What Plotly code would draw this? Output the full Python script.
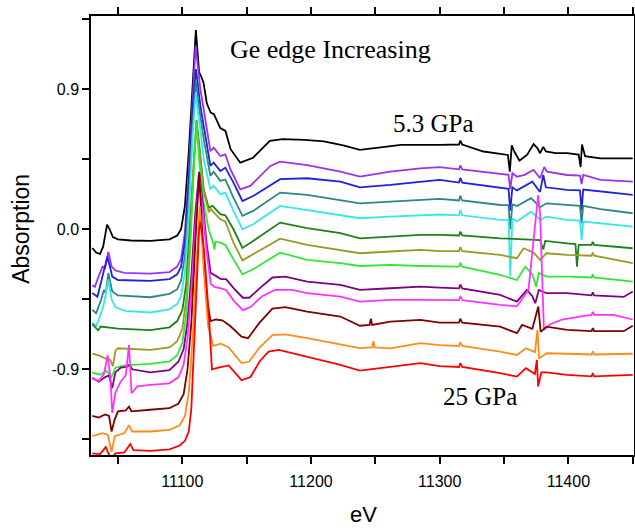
import plotly.graph_objects as go

# ---------------- data ----------------
X_TICKS = [11050, 11100, 11150, 11200, 11250, 11300, 11350, 11400, 11450]
X_LABELS = ["", "11100", "", "11200", "", "11300", "", "11400", ""]
Y_TICKS = [-1.35, -0.9, -0.45, 0.0, 0.45, 0.9, 1.35]
Y_LABELS = ["", "-0.9", "", "0.0", "", "0.9", ""]

BLACK = [(11030,-0.12),(11033,-0.15),(11036,-0.16),(11038.5,-0.11),(11041.5,0.03),(11043.5,0.0),(11046,-0.05),
         (11050,-0.065),(11060,-0.072),(11075,-0.075),(11090,-0.065),(11096,-0.04),(11099,0.0),(11102,0.15),
         (11105,0.5),(11108,0.93),(11110.5,1.28),(11113,1.01),(11114.5,0.985),(11116.5,0.94),(11119,0.81),
         (11122,0.75),(11124.5,0.74),(11129.5,0.65),(11133.5,0.632),(11137.5,0.515),(11145,0.428),(11155,0.46),
         (11168,0.568),(11178,0.579),(11195,0.575),(11210,0.565),(11225,0.54),(11238,0.51),(11255,0.525),
         (11270,0.542),(11300,0.542),(11315,0.545),(11316,0.57),(11317.5,0.545),(11334,0.50),(11347,0.484),
         (11353,0.478),(11354.5,0.37),(11356,0.54),(11358,0.50),(11362,0.441),(11368,0.48),(11373,0.548),
         (11376,0.52),(11378,0.489),(11380.5,0.53),(11382.5,0.50),(11390,0.49),(11399,0.489),(11408,0.48),
         (11409.5,0.40),(11410.6,0.545),(11413,0.47),(11425,0.456),(11450,0.456)]

VIOLET = [(11030,-0.36),(11032,-0.37),(11035,-0.30),(11038,-0.24),(11040,-0.25),(11042.5,-0.145),(11045,-0.24),
          (11048,-0.265),(11055,-0.28),(11075,-0.285),(11090,-0.275),(11096,-0.24),(11099,-0.19),(11102,-0.02),
          (11105,0.38),(11108,0.88),(11110.3,1.18),(11112,1.05),(11114,0.9),(11116.6,0.77),(11121.8,0.503),
          (11124.3,0.525),(11129.5,0.471),(11133.4,0.482),(11137.3,0.386),(11145,0.257),(11152.8,0.279),
          (11168.4,0.407),(11176,0.435),(11197,0.413),(11222.8,0.37),(11238,0.338),(11261.6,0.37),(11285,0.392),
          (11300,0.40),(11315,0.385),(11316,0.41),(11317.5,0.385),(11347,0.356),(11353.5,0.35),(11354.8,0.26),
          (11356.5,0.36),(11360,0.338),(11366,0.35),(11373,0.381),(11378,0.328),(11381.3,0.40),(11383.4,0.37),
          (11399,0.349),(11409,0.345),(11410.3,0.29),(11411.5,0.35),(11425,0.317),(11450,0.306)]

BLUE = [(11030,-0.41),(11034,-0.433),(11038,-0.30),(11041.7,-0.176),(11044,-0.25),(11045.5,-0.304),(11050,-0.326),
        (11075,-0.332),(11090,-0.32),(11096,-0.29),(11099,-0.24),(11102,-0.08),(11105,0.3),(11108,0.78),
        (11110.5,1.03),(11112,0.93),(11114,0.793),(11116.6,0.664),(11121.8,0.407),(11124.3,0.428),(11129.5,0.375),
        (11133.4,0.396),(11139.7,0.30),(11146.7,0.182),(11155,0.214),(11176,0.322),(11197,0.328),(11222.8,0.306),
        (11238,0.27),(11261.6,0.285),(11285,0.306),(11300,0.317),(11315,0.30),(11316,0.33),(11317.5,0.30),
        (11347,0.264),(11353.5,0.26),(11354.8,0.12),(11356.5,0.27),(11360,0.25),(11372,0.306),(11378,0.24),
        (11380.5,0.35),(11382.5,0.27),(11399,0.253),(11409,0.25),(11410.3,0.12),(11411.5,0.255),(11425,0.242),
        (11450,0.221)]

TEAL = [(11030,-0.518),(11033,-0.54),(11037,-0.45),(11039,-0.39),(11040.5,-0.41),(11042.5,-0.282),(11045.5,-0.40),
        (11050,-0.425),(11075,-0.437),(11090,-0.415),(11096,-0.385),(11099,-0.33),(11102,-0.17),(11105,0.2),
        (11108,0.68),(11110.5,0.95),(11112,0.84),(11114,0.72),(11116.6,0.58),(11121.8,0.343),(11124.3,0.37),
        (11129.5,0.311),(11133.4,0.32),(11139.7,0.203),(11146.7,0.086),(11155,0.118),(11176,0.236),(11197,0.221),
        (11222.8,0.189),(11238,0.167),(11261.6,0.178),(11285,0.189),(11300,0.195),(11315,0.185),(11316,0.215),
        (11317.5,0.185),(11347,0.156),(11353.5,0.155),(11354.8,0.0),(11356.5,0.16),(11360,0.15),(11371,0.20),
        (11378,0.142),(11383,0.167),(11399,0.156),(11409,0.15),(11410.3,0.04),(11411.5,0.15),(11425,0.129),
        (11450,0.103)]

CYAN = [(11030,-0.60),(11033,-0.62),(11036,-0.56),(11039,-0.48),(11042.5,-0.326),(11045,-0.45),(11048,-0.50),
        (11055,-0.525),(11075,-0.535),(11090,-0.515),(11096,-0.48),(11099,-0.43),(11102,-0.27),(11105,0.1),
        (11108,0.6),(11110.5,0.88),(11112,0.76),(11114,0.643),(11116.6,0.45),(11121.8,0.257),(11124.3,0.28),
        (11129.5,0.225),(11133.4,0.236),(11139.7,0.118),(11146.7,0.0),(11155,0.032),(11176,0.15),(11197,0.124),
        (11222.8,0.092),(11238,0.071),(11261.6,0.081),(11285,0.092),(11300,0.095),(11315,0.09),(11316,0.125),
        (11317.5,0.09),(11347,0.06),(11353.5,0.06),(11354.8,-0.30),(11356.5,0.07),(11360,0.05),(11371,0.113),
        (11378,0.06),(11383,0.081),(11399,0.06),(11409,0.055),(11410.3,-0.07),(11411.5,0.05),(11425,0.039),
        (11450,0.017)]

DKGREEN = [(11030,-0.61),(11033,-0.635),(11034.5,-0.65),(11036.5,-0.625),(11050,-0.638),(11075,-0.648),(11090,-0.63),
           (11096,-0.59),(11100,-0.52),(11103,-0.35),(11106,0.05),(11109,0.5),(11111,0.70),(11113,0.55),
           (11116.6,0.257),(11120.4,0.139),(11123.5,0.15),(11129.5,0.097),(11133.4,0.09),(11139.7,0.0),
           (11146.7,-0.12),(11155,-0.075),(11176,0.043),(11197,0.007),(11222.8,-0.025),(11238,-0.058),
           (11261.6,-0.047),(11285,-0.036),(11300,-0.036),(11315,-0.04),(11316,-0.015),(11317.5,-0.04),
           (11347,-0.058),(11378,-0.069),(11380.5,-0.13),(11382,-0.075),(11399,-0.09),(11405.5,-0.095),
           (11406.7,-0.24),(11408,-0.10),(11418,-0.10),(11419,-0.08),(11420,-0.10),(11450,-0.122)]

OLIVE = [(11030,-0.80),(11035,-0.81),(11040,-0.83),(11044,-0.84),(11046,-0.88),(11048,-0.78),(11050,-0.765),
         (11075,-0.775),(11090,-0.76),(11096,-0.72),(11100,-0.64),(11103,-0.45),(11106,-0.05),(11109,0.45),
         (11111,0.68),(11113,0.52),(11116.6,0.25),(11120.5,0.11),(11122,0.13),(11129.5,0.064),(11133.4,0.05),
         (11139.7,-0.086),(11146.7,-0.20),(11155,-0.16),(11176,-0.06),(11197,-0.101),(11222.8,-0.133),
         (11238,-0.154),(11261.6,-0.143),(11285,-0.133),(11300,-0.14),(11315,-0.14),(11316,-0.115),
         (11317.5,-0.14),(11347,-0.165),(11360,-0.186),(11365.2,-0.122),(11373,-0.15),(11378,-0.197),
         (11383,-0.154),(11399,-0.165),(11418,-0.17),(11419,-0.15),(11420,-0.17),(11450,-0.218)]

GREEN = [(11030,-0.92),(11036,-0.935),(11041,-0.91),(11045,-0.95),(11048,-0.89),(11055,-0.875),(11075,-0.865),
         (11090,-0.85),(11096,-0.81),(11100,-0.73),(11103,-0.55),(11106,-0.15),(11109,0.4),(11111,0.69),
         (11113,0.45),(11116.6,0.171),(11120.4,0.0),(11124.3,-0.096),(11125,-0.13),(11125.7,-0.08),
         (11129.5,-0.086),(11133.4,-0.10),(11139.7,-0.193),(11146.7,-0.29),(11155,-0.257),(11176,-0.15),
         (11197,-0.197),(11222.8,-0.218),(11238,-0.236),(11261.6,-0.229),(11285,-0.236),(11300,-0.24),
         (11315,-0.24),(11316,-0.215),(11317.5,-0.24),(11347,-0.293),(11360,-0.326),(11366.5,-0.24),
         (11372,-0.29),(11375,-0.37),(11377,-0.28),(11383,-0.304),(11399,-0.304),(11418,-0.31),(11419,-0.29),
         (11420,-0.31),(11450,-0.336)]

PURPLE = [(11030,-0.955),(11035,-0.98),(11040,-0.95),(11043,-0.94),(11045.5,-1.02),(11048,-0.92),(11052,-0.89),
          (11057,-0.885),(11059,-0.87),(11061,-0.90),(11075,-0.92),(11090,-0.905),(11097,-0.85),(11101,-0.77),
          (11104,-0.6),(11107,-0.3),(11110,0.1),(11113,0.37),(11116,0.15),(11119,-0.1),(11122,-0.28),
          (11125,-0.295),(11130,-0.32),(11134,-0.32),(11140,-0.38),(11147,-0.44),(11152,-0.44),(11160,-0.38),
          (11170,-0.31),(11180,-0.305),(11197,-0.336),(11222.8,-0.358),(11238,-0.39),(11261.6,-0.379),
          (11285,-0.369),(11300,-0.375),(11315,-0.38),(11316,-0.355),(11317.5,-0.38),(11347,-0.422),(11360,-0.465),
          (11367.8,-0.39),(11372,-0.43),(11374.3,-0.475),(11377,-0.39),(11383,-0.411),(11399,-0.411),
          (11418,-0.425),(11419,-0.405),(11420,-0.425),(11443,-0.435),(11450,-0.40)]

MAGENTA = [(11030,-0.96),(11035,-0.975),(11039,-0.93),(11042,-0.81),(11044,-0.95),(11045.5,-1.18),(11048,-1.05),
           (11052,-0.98),(11056,-0.94),(11058.5,-0.744),(11060.5,-1.054),(11065,-1.01),(11075,-1.0),(11090,-0.99),
           (11097,-0.95),(11101,-0.87),(11104,-0.7),(11107,-0.4),(11110,0.0),(11113,0.33),(11116,0.1),
           (11119,-0.15),(11122,-0.35),(11125,-0.37),(11130,-0.38),(11134,-0.39),(11140,-0.46),(11147,-0.52),
           (11153,-0.50),(11162,-0.43),(11172,-0.39),(11185,-0.39),(11197,-0.411),(11222.8,-0.433),(11238,-0.465),
           (11261.6,-0.454),(11285,-0.454),(11300,-0.454),(11315,-0.455),(11316,-0.43),(11317.5,-0.455),
           (11347,-0.486),(11360,-0.495),(11369,-0.39),(11376.5,0.22),(11378,0.10),(11381,-0.647),(11386,-0.61),
           (11395,-0.58),(11410,-0.56),(11418,-0.55),(11419,-0.53),(11420,-0.55),(11435,-0.55),(11450,-0.58)]

DKRED = [(11030,-1.20),(11035,-1.21),(11040,-1.19),(11043,-1.20),(11045,-1.30),(11047.5,-1.22),(11050,-1.17),
         (11056,-1.165),(11058.5,-1.14),(11060.5,-1.17),(11075,-1.16),(11090,-1.15),(11097,-1.12),(11101,-1.06),
         (11104,-0.9),(11107,-0.6),(11110,-0.1),(11113,0.36),(11116,-0.1),(11119,-0.45),(11122,-0.59),
         (11126,-0.58),(11131,-0.585),(11137,-0.62),(11146,-0.69),(11151,-0.70),(11160,-0.60),(11170,-0.51),
         (11180,-0.50),(11197,-0.529),(11222.8,-0.561),(11238,-0.62),(11245.5,-0.615),(11246.5,-0.575),
         (11247.5,-0.615),(11261.6,-0.594),(11285,-0.583),(11300,-0.60),(11315,-0.60),(11316,-0.575),
         (11317.5,-0.60),(11347,-0.626),(11360,-0.668),(11364,-0.615),(11372,-0.64),(11376.6,-0.497),
         (11378.5,-0.66),(11383,-0.626),(11399,-0.647),(11418,-0.655),(11419,-0.635),(11420,-0.655),
         (11443,-0.655),(11450,-0.62)]

ORANGE = [(11030,-1.33),(11038,-1.31),(11042,-1.32),(11045,-1.43),(11047.5,-1.33),(11055,-1.31),(11058.5,-1.26),
          (11061,-1.30),(11075,-1.30),(11090,-1.29),(11098,-1.26),(11102,-1.2),(11105,-1.05),(11108,-0.7),
          (11111,-0.2),(11113.5,0.15),(11116.5,-0.25),(11120,-0.62),(11124,-0.75),(11130,-0.735),(11136,-0.76),
          (11146,-0.86),(11152,-0.85),(11160,-0.76),(11170,-0.68),(11180,-0.675),(11197,-0.70),(11222.8,-0.743),
          (11238,-0.764),(11247.5,-0.76),(11248.5,-0.72),(11249.5,-0.76),(11261.6,-0.765),(11285,-0.732),
          (11300,-0.745),(11315,-0.75),(11316,-0.725),(11317.5,-0.75),(11347,-0.786),(11360,-0.808),
          (11367,-0.765),(11374,-0.79),(11376,-0.647),(11377.2,-0.83),(11383,-0.797),(11399,-0.80),
          (11418,-0.805),(11419,-0.785),(11420,-0.805),(11450,-0.80)]

RED = [(11030,-1.44),(11036,-1.445),(11040.5,-1.40),(11042.5,-1.44),(11045,-1.47),(11048,-1.44),(11055,-1.435),
       (11059.5,-1.38),(11062,-1.42),(11075,-1.425),(11090,-1.415),(11098,-1.39),(11102,-1.36),(11105,-1.30),
       (11107,-1.15),(11109,-0.8),(11111,-0.35),(11113,0.0),(11114,0.05),(11116.6,-0.11),(11120.5,-0.54),
       (11123,-0.90),(11128,-0.89),(11136,-0.875),(11146,-0.97),(11153,-0.95),(11160,-0.85),(11167,-0.786),
       (11175,-0.775),(11197,-0.818),(11222.8,-0.872),(11238,-0.908),(11261.6,-0.883),(11285,-0.861),
       (11300,-0.88),(11315,-0.885),(11316,-0.86),(11317.5,-0.885),(11347,-0.925),(11360,-0.947),(11367,-0.893),
       (11374,-0.93),(11375.5,-0.84),(11376.5,-1.01),(11379,-0.92),(11383,-0.92),(11399,-0.936),(11418,-0.945),
       (11419,-0.925),(11420,-0.945),(11450,-0.936)]

SERIES = [BLACK, VIOLET, BLUE, TEAL, CYAN, DKGREEN, OLIVE, GREEN, PURPLE, MAGENTA, DKRED, ORANGE, RED]
COLORS = ["#000000", "#9933ee", "#2020dd", "#2e8585", "#33e8e8", "#1f801f", "#9a9a22",
          "#33e633", "#800080", "#ff33ff", "#800000", "#ff8c1a", "#ff0000"]

# ---------------- figure ----------------
fig = go.Figure()
for pts, col in zip(SERIES, COLORS):
    xs = [p[0] for p in pts]
    ys = [p[1] for p in pts]
    fig.add_trace(go.Scatter(x=xs, y=ys, mode="lines",
                             line=dict(color=col, width=1.8), hoverinfo="skip"))

axis_common = dict(showline=True, linewidth=1.5, linecolor="black", mirror="ticks",
                   ticks="outside", ticklen=7, tickwidth=1.5, tickcolor="black",
                   showgrid=False, zeroline=False, automargin=False,
                   tickfont=dict(family="Liberation Sans, Arial, sans-serif", size=16, color="black"))

fig.update_xaxes(range=[11029, 11451], tickvals=X_TICKS, ticktext=X_LABELS,
                 ticklabelstandoff=4, **axis_common)
fig.update_yaxes(range=[-1.451, 1.371], tickvals=Y_TICKS, ticktext=Y_LABELS, **axis_common)

serif = "Liberation Serif, Times New Roman, serif"
sans = "Liberation Sans, Arial, sans-serif"
fig.update_layout(
    width=635, height=529,
    margin=dict(l=91, r=1, t=16, b=74, autoexpand=False),
    paper_bgcolor="white", plot_bgcolor="white",
    showlegend=False,
    annotations=[
        dict(text="Ge edge Increasing", x=11215, y=1.153, xref="x", yref="y", showarrow=False,
             xanchor="center", yanchor="middle",
             font=dict(family=serif, size=26, color="black")),
        dict(text="5.3 GPa", x=11295, y=0.677, xref="x", yref="y", showarrow=False,
             xanchor="center", yanchor="middle",
             font=dict(family=serif, size=25, color="black")),
        dict(text="25 GPa", x=11331.6, y=-1.078, xref="x", yref="y", showarrow=False,
             xanchor="center", yanchor="middle",
             font=dict(family=serif, size=25, color="black")),
        dict(text="Absorption", x=-0.129, y=0.515, xref="paper", yref="paper", showarrow=False,
             xanchor="center", yanchor="middle", textangle=-90,
             font=dict(family=sans, size=23, color="black")),
        dict(text="eV", x=0.502, y=-0.135, xref="paper", yref="paper", showarrow=False,
             xanchor="center", yanchor="middle",
             font=dict(family=sans, size=22, color="black")),
    ],
)

fig.write_html("out.html", config={"displayModeBar": False},
               post_script="document.body.style.margin='0';document.body.style.overflow='hidden';")
